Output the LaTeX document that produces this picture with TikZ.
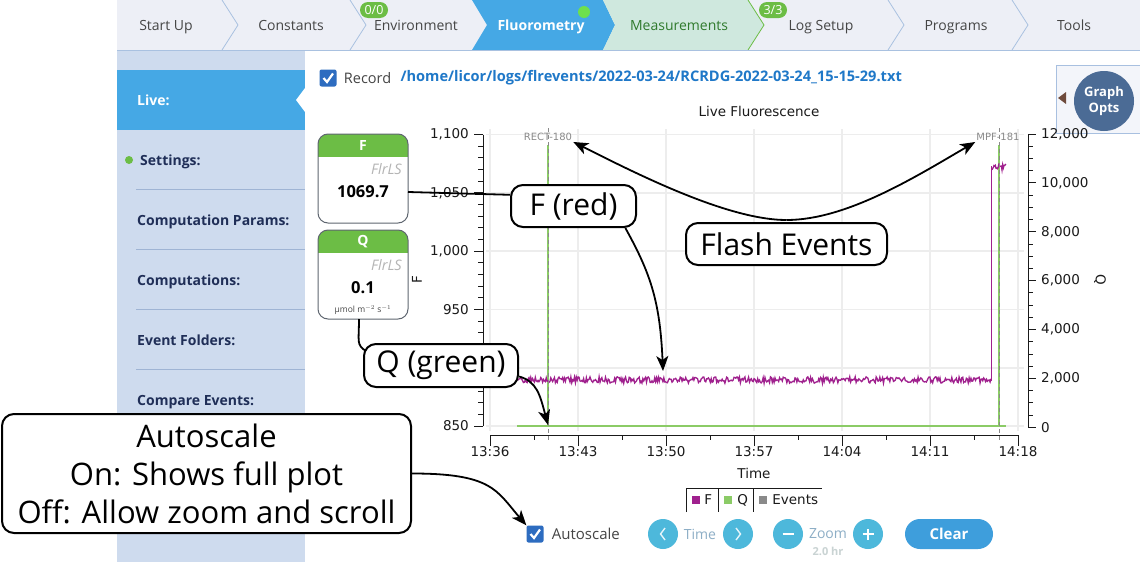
\documentclass[tikz,border=0pt]{standalone}
\usepackage{fontspec}
\setmainfont{Open Sans}
\newfontfamily\plotfont{DejaVu Sans}
\usetikzlibrary{arrows.meta,positioning}

\definecolor{barbg}{HTML}{EDEFF6}
\definecolor{barline}{HTML}{A9C1E0}
\definecolor{tabtxt}{HTML}{454545}
\definecolor{activeblue}{HTML}{45A8E5}
\definecolor{measbg}{HTML}{CFE8DE}
\definecolor{meastxt}{HTML}{2F7A2C}
\definecolor{badgegreen}{HTML}{6CBD45}
\definecolor{dotgreen}{HTML}{6EE04C}
\definecolor{sidebg}{HTML}{CEDBEE}
\definecolor{sidetxt}{HTML}{1F2E57}
\definecolor{sideline}{HTML}{9FB4D4}
\definecolor{checkblue}{HTML}{2D6CC0}
\definecolor{pathblue}{HTML}{1F78C8}
\definecolor{optsbg}{HTML}{F3F5FA}
\definecolor{optsline}{HTML}{A8C0E0}
\definecolor{optsblue}{HTML}{4B6B95}
\definecolor{optsbrown}{HTML}{6E4B3C}
\definecolor{gridgray}{HTML}{EDEDED}
\definecolor{eventgray}{HTML}{8A8A8A}
\definecolor{fpurple}{HTML}{A0218E}
\definecolor{qgreen}{HTML}{8BCB66}
\definecolor{cardline}{HTML}{5F6670}
\definecolor{srcgray}{HTML}{B4B4B4}
\definecolor{btncyan}{HTML}{4DB8DB}
\definecolor{btntxt}{HTML}{8DAEC6}
\definecolor{hrgray}{HTML}{C9D3D3}
\definecolor{clearblue}{HTML}{3E9EDC}
\definecolor{plottxt}{HTML}{1A1A1A}

\tikzset{
  tablbl/.style={font=\fontsize{14}{16}\selectfont, text=tabtxt, inner sep=0pt, anchor=base},
  chevron/.style={draw=barline, line width=0.8pt},
  badge/.style={fill=badgegreen, text=white, rounded corners=8pt, minimum width=28pt,
    minimum height=16pt, inner sep=0pt, font=\fontsize{12.5}{14}\selectfont},
  sideitem/.style={anchor=base west, text=sidetxt, inner sep=0pt, font=\bfseries\fontsize{14}{16}\selectfont},
  tickbox/.style={fill=checkblue, rounded corners=2pt, minimum size=17pt, inner sep=0pt},
  tickmark/.style={white, line width=2.2pt},
  uitext/.style={text=tabtxt, inner sep=0pt, font=\fontsize{14.5}{16}\selectfont},
  pathlbl/.style={text=pathblue, inner sep=0pt, font=\bfseries\fontsize{14.6}{16}\selectfont},
  ticklbl/.style={text=plottxt, inner sep=0pt, font=\plotfont\fontsize{13.5}{15}\selectfont},
  axisline/.style={plottxt, line width=1pt},
  gridline/.style={gridgray, line width=1.6pt},
  eventlbl/.style={text=eventgray, inner sep=1pt, font=\plotfont\fontsize{10}{12}\selectfont},
  eventline/.style={eventgray, dash pattern=on 4pt off 3pt, line width=0.8pt},
  cardbox/.style={minimum width=90pt, minimum height=89pt, inner sep=0pt, outer sep=0pt},
  cardedge/.style={draw=cardline, line width=1pt, rounded corners=10pt},
  cardhdr/.style={text=white, inner sep=0pt, font=\bfseries\fontsize{14}{16}\selectfont},
  cardsrc/.style={text=srcgray, inner sep=0pt, anchor=east, font=\itshape\fontsize{14.5}{16}\selectfont},
  cardval/.style={text=black, inner sep=0pt, font=\bfseries\fontsize{16.5}{18}\selectfont},
  legsq/.style={minimum size=8pt, inner sep=0pt},
  legtxt/.style={text=plottxt, inner sep=0pt, font=\plotfont\fontsize{13.5}{15}\selectfont},
  roundbtn/.style={circle, fill=btncyan, minimum size=30pt, inner sep=0pt},
  btnmark/.style={white!85!btncyan, line width=1.4pt},
  btnlbl/.style={text=btntxt, inner sep=0pt, font=\fontsize{14}{16}\selectfont},
  clearbtn/.style={fill=clearblue, text=white, rounded corners=15pt, minimum width=88pt,
    minimum height=30pt, inner sep=0pt, font=\bfseries\fontsize{15}{16}\selectfont},
  optsbtn/.style={circle, fill=optsblue, text=white, minimum size=60pt, inner sep=0pt,
    align=center, font=\bfseries\fontsize{13}{16}\selectfont},
  note/.style={draw=black, line width=2pt, fill=white, rounded corners=12pt, inner sep=0pt,
    font=\fontsize{30}{36}\selectfont},
  link/.style={black, line width=1.8pt},
  arr/.style={link, -{Stealth[length=15pt, width=12pt, inset=4pt]}}
}

\begin{document}
\begin{tikzpicture}[x=1pt, y=-1pt]
  \useasboundingbox (0,0) rectangle (1140,562);
  \fill[white] (0,0) rectangle (1140,562);

  \fill[barbg] (117,0) rectangle (1140,50);
  \foreach \cx in {222,350,888,1012}
    \draw[chevron] (\cx,0) -- (\cx+16,25) -- (\cx,50);
  \fill[activeblue] (472,0) -- (603,0) -- (615,25) -- (603,50) -- (472,50) -- (487,25) -- cycle;
  \fill[measbg] (603,0) -- (748,0) -- (764,25) -- (748,50) -- (603,50) -- (615,25) -- cycle;
  \draw[badgegreen, line width=0.8pt] (748,0) -- (764,25) -- (748,50);
  \draw[barline, line width=1pt] (117,50) -- (1140,50);

  \node[tablbl] (startup) at (166,30) {Start Up};
  \node[tablbl] (constants) at (291,30) {Constants};
  \node[tablbl] (environment) at (416,30) {Environment};
  \node[tablbl, text=white, font=\bfseries\fontsize{14}{16}\selectfont] (fluorometry) at (541,30) {Fluorometry};
  \node[tablbl, text=meastxt] (measurements) at (679,30) {Measurements};
  \node[tablbl] (logsetup) at (821,30) {Log Setup};
  \node[tablbl] (programs) at (956,30) {Programs};
  \node[tablbl] (tools) at (1074,30) {Tools};
  \node[badge] (envbadge) at (374,10) {0/0};
  \node[badge] (logbadge) at (773,10) {3/3};
  \fill[dotgreen] (584,12) circle (6);

  \fill[sidebg] (117,51) rectangle (305,562);
  \fill[activeblue] (117,70) rectangle (305,130);
  \fill[white] (305,88) -- (296,100) -- (305,112) -- cycle;
  \node[sideitem, text=white] (live) at (137,105) {Live:};
  \fill[badgegreen] (129,160) circle (4);
  \node[sideitem] (settings) at (140,165) {Settings:};
  \node[sideitem] (compparams) at (137,225) {Computation Params:};
  \node[sideitem] (computations) at (137,285) {Computations:};
  \node[sideitem] (eventfolders) at (137,345) {Event Folders:};
  \node[sideitem] (compare) at (137,405) {Compare Events:};
  \foreach \sy in {189,249,309,369}
    \draw[sideline, line width=1pt] (136,\sy) -- (305,\sy);

  \node[tickbox] (reccheck) at (328,78) {};
  \node[uitext, right=7pt of reccheck] (record) {Record};
  \node[pathlbl, right=9pt of record] (logpath) {/home/licor/logs/flrevents/2022-03-24/RCRDG-2022-03-24\_15-15-29.txt};

  \draw[optsline, fill=optsbg] (1056,65) rectangle (1145,133);
  \fill[optsbrown] (1058,98) -- (1066,92) -- (1066,104) -- cycle;
  \node[optsbtn] (graphopts) at (1104,101) {Graph\\Opts};

  \node[ticklbl] (plottitle) at (759,111) {Live Fluorescence};

  \foreach \gx in {490,578,...,1018}
    \draw[gridline] (\gx,129) -- (\gx,431);
  \foreach \k in {0,...,5}
    \draw[gridline] (486,134.5+58.3*\k) -- (1024,134.5+58.3*\k);

  \draw[axisline] (483,134.5) -- (483,426);
  \foreach \m in {0,...,25}
    \draw[axisline] (483,134.5+11.66*\m) -- ++(-5,0);
  \foreach \k in {0,...,5}
    \draw[axisline] (483,134.5+58.3*\k) -- ++(-9,0);
  \foreach \k/\lbl in {0/{1,100},1/{1,050},2/{1,000},3/950,5/850}
    \node[ticklbl, anchor=east] (ylbl\k) at (469,134.5+58.3*\k) {\lbl};
  \node[ticklbl, rotate=90] (faxis) at (417,280) {F};

  \draw[axisline] (1028,134) -- (1028,427.4);
  \foreach \m in {0,...,24}
    \draw[axisline] (1028,134+12.225*\m) -- ++(4.5,0);
  \foreach \k/\lbl in {0/{12,000},1/{10,000},2/{8,000},3/{6,000},4/{4,000},5/{2,000},6/0} {
    \draw[axisline] (1028,134+48.9*\k) -- ++(8,0);
    \node[ticklbl, anchor=west] (qlbl\k) at (1041,134+48.9*\k) {\lbl};
  }
  \node[ticklbl, rotate=-90] (qaxis) at (1100,280) {Q};

  \draw[axisline] (490,435) -- (1018,435);
  \foreach \i/\t in {0/13:36,1/13:43,2/13:50,3/13:57,4/14:04,5/14:11,6/14:18} {
    \draw[axisline] (490+88*\i,435) -- ++(0,11);
    \node[ticklbl] (xlbl\i) at (490+88*\i,452) {\t};
  }
  \foreach \i in {0,...,5}
    \draw[axisline] (534+88*\i,435) -- ++(0,5);
  \node[ticklbl] (timeaxis) at (754,473) {Time};

  \draw[qgreen, line width=1.3pt] (548,145) -- (548,426);
  \draw[qgreen, line width=1.6pt] (517,426) -- (1006,426);
  \draw[qgreen, line width=1.3pt] (999,145) -- (999,426);
  \pgfmathsetseed{11}
  \draw[fpurple, line width=1.3pt] plot[domain=518:991, samples=520] (\x,{380+3.2*rand});
  \draw[fpurple, line width=1pt] (991.5,381) -- (991.5,166);
  \draw[fpurple, line width=1.3pt] plot[domain=992:1006, samples=22] (\x,{167+3*rand});
  \draw[eventline] (548,128) -- (548,441);
  \draw[eventline] (999,128) -- (999,441);
  \node[eventlbl] (rectlbl) at (548,137) {RECT-180};
  \node[eventlbl] (mpflbl) at (998,137) {MPF-181};

  \draw[axisline] (686,512) -- (686,488) -- (822,488);
  \draw[axisline] (718,488) -- (718,512) (753,488) -- (753,512);
  \node[legsq, fill=fpurple] (legf) at (696,500) {};
  \node[legtxt, right=4pt of legf] (legftxt) {F};
  \node[legsq, fill=qgreen] (legq) at (728,500) {};
  \node[legtxt, right=5pt of legq] (legqtxt) {Q};
  \node[legsq, fill=eventgray] (lege) at (763,500) {};
  \node[legtxt, right=5pt of lege] (legetxt) {Events};

  \foreach \c/\cy/\hdr/\val in {fcard/178.5/F/1069.7, qcard/274.5/Q/0.1} {
    \node[cardbox] (\c) at (363,\cy) {};
    \begin{scope}
      \clip[rounded corners=10pt] (\c.north west) rectangle (\c.south east);
      \fill[badgegreen] (\c.north west) rectangle ([yshift=-23pt]\c.north east);
    \end{scope}
    \draw[cardedge] (\c.north west) rectangle (\c.south east);
    \node[cardhdr] (\c hdr) at ([yshift=-11.5pt]\c.north) {\hdr};
    \node[cardsrc] (\c src) at ([xshift=-6pt,yshift=-35pt]\c.north east) {FlrLS};
    \node[cardval] (\c val) at ([yshift=-58pt]\c.north) {\val};
  }
  \node[text=tabtxt, inner sep=0pt, font=\fontsize{8.5}{10}\selectfont] (qunit) at ([yshift=-80pt]qcard.north) {µmol m$^{-2}$ s$^{-1}$};

  \node[tickbox] (autocheck) at (535,534) {};
  \foreach \c in {reccheck,autocheck}
    \draw[tickmark] ([xshift=-4.5pt]\c.center) -- ++(3.5,4) -- ++(6,-8.5);
  \node[uitext, right=8pt of autocheck, font=\fontsize{15}{16}\selectfont] (autolbl) {Autoscale};
  \node[roundbtn] (tprev) at (663,534) {};
  \node[roundbtn] (tnext) at (738,534) {};
  \node[btnlbl] (timelbl) at (700,534) {Time};
  \node[roundbtn] (zout) at (788,534) {};
  \node[roundbtn] (zin) at (868,534) {};
  \node[btnlbl] (zoomlbl) at (828,534) {Zoom};
  \node[text=hrgray, inner sep=0pt, font=\bfseries\fontsize{11}{12}\selectfont] (zoomhr) at (828,551) {2.0 hr};
  \node[clearbtn] (clear) at (949,534) {Clear};
  \draw[btnmark] ([xshift=2pt,yshift=6pt]tprev.center) -- ([xshift=-2.5pt]tprev.center) -- ([xshift=2pt,yshift=-6pt]tprev.center);
  \draw[btnmark] ([xshift=-2pt,yshift=6pt]tnext.center) -- ([xshift=2.5pt]tnext.center) -- ([xshift=-2pt,yshift=-6pt]tnext.center);
  \draw[white, line width=2pt] ([xshift=-5.5pt]zout.center) -- ([xshift=5.5pt]zout.center);
  \draw[white, line width=2pt] ([xshift=-5.5pt]zin.center) -- ([xshift=5.5pt]zin.center)
    ([yshift=-5.5pt]zin.center) -- ([yshift=5.5pt]zin.center);

  \node[note, minimum width=125pt, minimum height=42pt] (fnote) at (573.5,206) {F (red)};
  \node[note, minimum width=201pt, minimum height=42pt] (flash) at (786.5,244) {Flash Events};
  \node[note, minimum width=154pt, minimum height=43pt] (qnote) at (441,365.5) {Q (green)};
  \node[note, minimum width=409pt, minimum height=119pt, align=center,
    font=\fontsize{31}{38}\selectfont] (autonote) at (206.5,473.5)
    {Autoscale\\On: Shows full plot\\Off: Allow zoom and scroll};

  \coordinate (ftrace) at (663,371);
  \coordinate (qstart) at (548,425);
  \draw[link] (fcard.east |- fcardval.east) -- (fnote.170);
  \draw[arr] (fnote.-23) .. controls +(25,45) and +(-3,-70) .. (ftrace);
  \draw[arr] ([yshift=2pt]flash.north) .. controls +(-60,0) and +(60,30) .. (rectlbl.south east);
  \draw[arr] ([yshift=2pt]flash.north) .. controls +(60,0) and +(-60,35) .. (mpflbl.south west);
  \draw[link] ([xshift=-4pt]qcard.south) .. controls +(0,22) and +(-10,-6) .. ([xshift=3pt,yshift=-8pt]qnote.north west);
  \draw[arr] (qnote.-8) .. controls +(18,5) and +(-8,-30) .. (qstart);
  \draw[arr] (autonote.east) .. controls +(80,0) and +(-30,-35) .. (autocheck.north west);
\end{tikzpicture}
\end{document}
